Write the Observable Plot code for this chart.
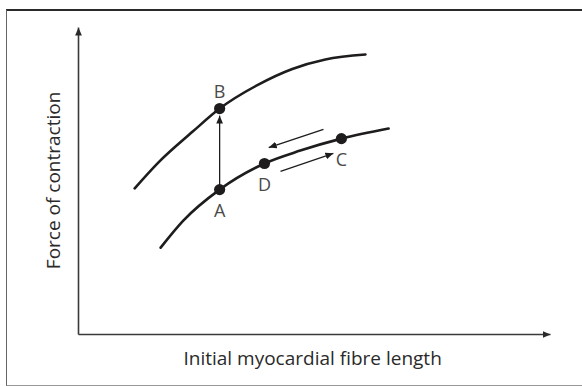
<!DOCTYPE html>
<html>
<head>
<meta charset="utf-8">
<script src="https://cdn.jsdelivr.net/npm/d3@7"></script>
<script src="https://cdn.jsdelivr.net/npm/@observablehq/plot@0.6"></script>
<style>
  html, body { margin: 0; padding: 0; background: #fff; overflow: hidden; }
  #wrap { position: relative; width: 582px; height: 386px; }
  #border { position: absolute; left: 6px; top: 9px; width: 590px; height: 374px;
            border-top: 2px solid #2a2a2a; border-left: 1.5px solid #666; border-bottom: 1.5px solid #999; }
  #chart { position: absolute; left: 0; top: 0; }
</style>
</head>
<body>
<div id="wrap"><div id="border"></div><div id="chart"></div></div>
<script>
// Curve samples (abstract units: x = fibre length, y = force)
const upperX = [11.9, 16.9, 24.2, 29.9, 38.1, 45.3, 52.3, 60.8];
const upperY = [47.6, 56.0, 66.1, 73.6, 81.4, 86.5, 89.6, 91.2];
const lowerX = [17.4, 22.2, 29.9, 39.4, 47.0, 55.7, 65.7];
const lowerY = [28.3, 37.1, 47.2, 55.7, 59.9, 63.8, 67.1];

// Labelled points
const pointNames = ["A", "B", "C", "D"];
const pointX = [29.9, 29.9, 55.7, 39.4];
const pointY = [47.2, 73.6, 63.8, 55.7];

// Arrows: A->B, C->D (upper), D->C (lower)
const arrowX1 = [29.9, 51.9, 42.8];
const arrowY1 = [47.2, 66.8, 53.1];
const arrowX2 = [29.9, 40.3, 54.0];
const arrowY2 = [71.3, 60.9, 59.0];

const xLabel = "Initial myocardial fibre length";
const yLabel = "Force of contraction";

const upper = upperX.map((x, i) => ({x, y: upperY[i]}));
const lower = lowerX.map((x, i) => ({x, y: lowerY[i]}));
const points = pointNames.map((name, i) => ({name, x: pointX[i], y: pointY[i]}));
const arrows = arrowX1.map((x1, i) => ({x1, y1: arrowY1[i], x2: arrowX2[i], y2: arrowY2[i]}));
const axesLines = [{x1: 0, y1: 0, x2: 100, y2: 0}, {x1: 0, y1: 0, x2: 0, y2: 100}];

const ink = "#1e1c1d";
const font = "'Open Sans', 'Noto Sans', sans-serif";

const plot = Plot.plot({
  width: 582,
  height: 386,
  marginLeft: 78,
  marginRight: 32,
  marginTop: 27,
  marginBottom: 52,
  x: {domain: [0, 100], axis: null},
  y: {domain: [0, 100], axis: null},
  style: {background: "transparent", overflow: "visible", fontFamily: font},
  marks: [
    Plot.link(axesLines, {x1: "x1", y1: "y1", x2: "x2", y2: "y2", stroke: "#3a3a3a", strokeWidth: 1.6, markerEnd: "arrow"}),
    Plot.line(upper, {x: "x", y: "y", curve: "monotone-x", stroke: ink, strokeWidth: 2.6}),
    Plot.line(lower, {x: "x", y: "y", curve: "monotone-x", stroke: ink, strokeWidth: 2.6}),
    Plot.link(arrows, {x1: "x1", y1: "y1", x2: "x2", y2: "y2", stroke: ink, strokeWidth: 1.3, markerEnd: "arrow"}),
    Plot.dot(points, {x: "x", y: "y", r: 5.6, fill: ink, stroke: "none"}),
    Plot.text(points.filter(d => d.name === "B"), {x: "x", y: "y", text: "name", dy: -16, fontSize: 18, fill: "#4a4a4a"}),
    Plot.text(points.filter(d => d.name !== "B"), {x: "x", y: "y", text: "name", dy: 22, fontSize: 18, fill: "#4a4a4a"}),
    Plot.text([xLabel], {x: 49.6, y: 0, text: d => d, dy: 24, fontSize: 19, fill: "#2a2a2a"}),
    Plot.text([yLabel], {x: 0, y: 50.2, text: d => d, dx: -25, rotate: -90, fontSize: 19, fill: "#2a2a2a"})
  ]
});

// Replace open arrow markers with filled triangular heads
const ns = "http://www.w3.org/2000/svg";
const defs = document.createElementNS(ns, "defs");
function mk(id, color) {
  const m = document.createElementNS(ns, "marker");
  m.setAttribute("id", id);
  m.setAttribute("viewBox", "-10 -5 10 10");
  m.setAttribute("refX", "0");
  m.setAttribute("refY", "0");
  m.setAttribute("markerUnits", "userSpaceOnUse");
  m.setAttribute("markerWidth", "8");
  m.setAttribute("markerHeight", "8");
  m.setAttribute("orient", "auto");
  const p = document.createElementNS(ns, "path");
  p.setAttribute("d", "M-10,-4.2L0,0L-10,4.2Z");
  p.setAttribute("fill", color);
  m.appendChild(p);
  defs.appendChild(m);
}
mk("headAxis", "#2a2a2a");
mk("headInk", ink);
plot.insertBefore(defs, plot.firstChild);
plot.querySelectorAll("[marker-end]").forEach(el => {
  const s = el.getAttribute("stroke") || (el.parentNode && el.parentNode.getAttribute("stroke"));
  el.setAttribute("marker-end", s === "#3a3a3a" ? "url(#headAxis)" : "url(#headInk)");
});
document.getElementById("chart").appendChild(plot);
</script>
</body>
</html>
